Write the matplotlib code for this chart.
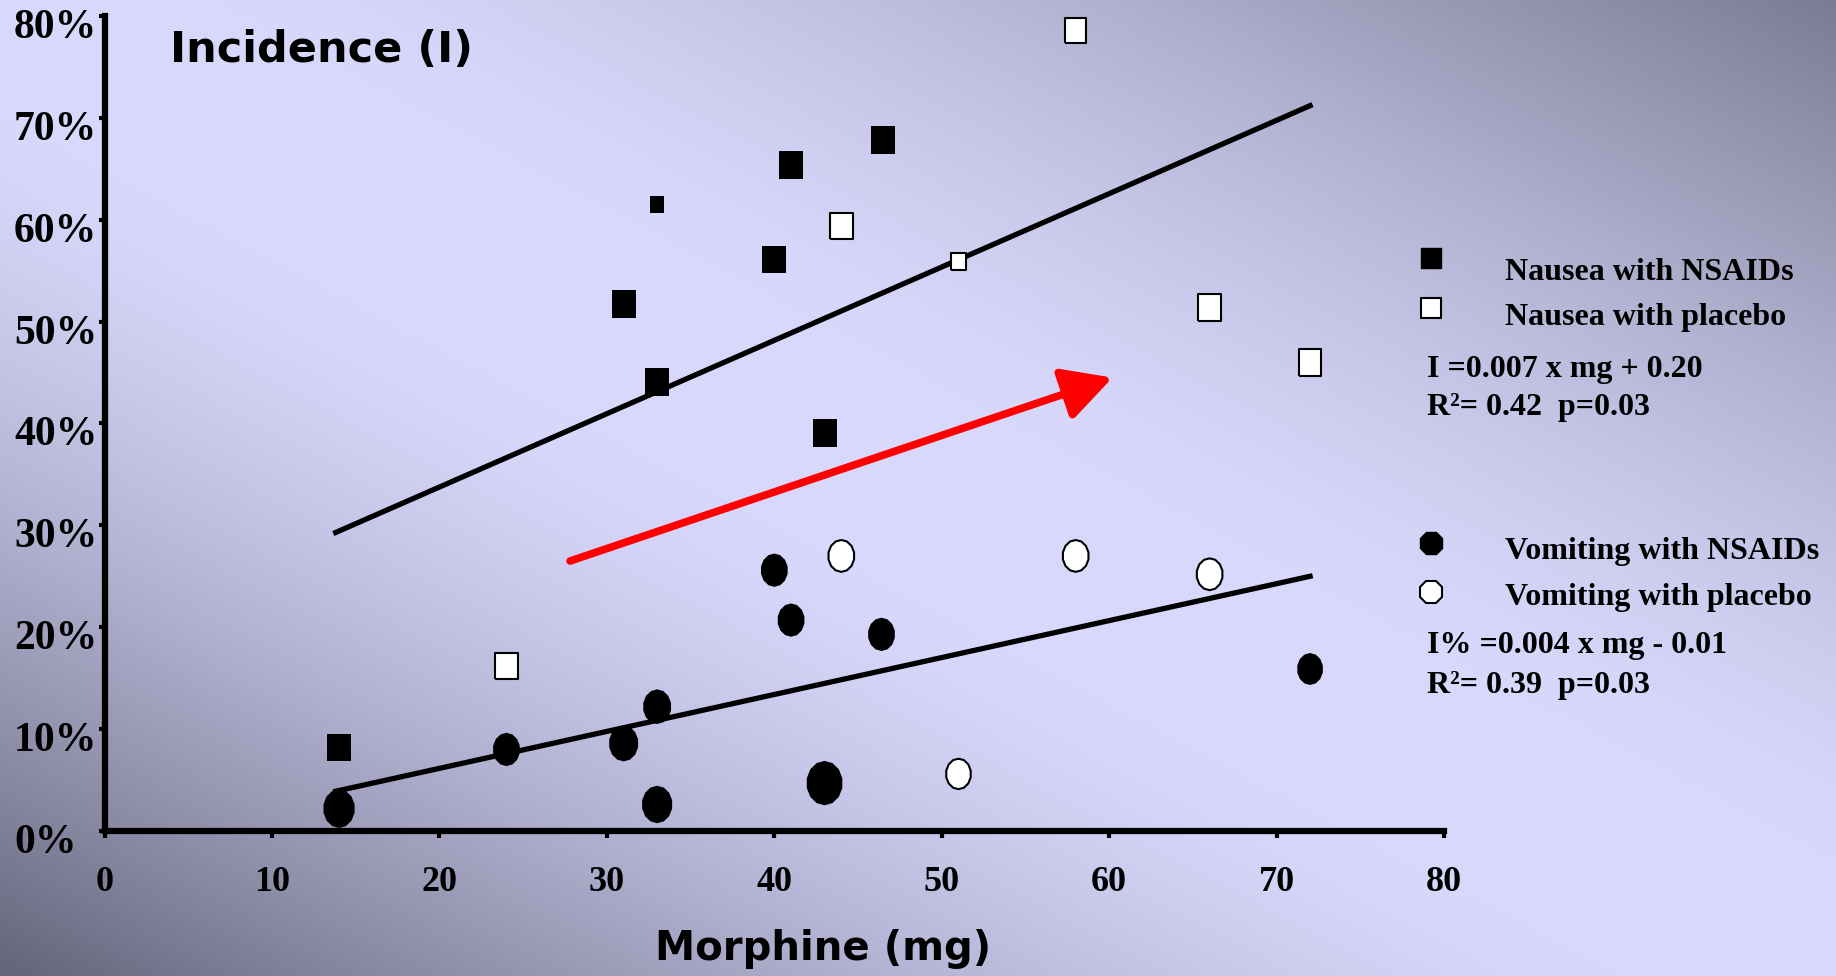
import numpy as np
import matplotlib
matplotlib.use('Agg')
from matplotlib import pyplot as plt
from matplotlib import transforms

# Morphine dose (mg) and incidence (%)
nausea_nsaid_x = [14, 31, 33, 33, 40, 41, 46.5, 43]
nausea_nsaid_y = [8.2, 51.7, 61.5, 44.1, 56.1, 65.4, 67.8, 39.1]
nausea_placebo_x = [24, 44, 51, 58, 66, 72]
nausea_placebo_y = [16.2, 59.4, 55.9, 78.6, 51.4, 46.0]
vomit_nsaid_x = [14, 24, 31, 33, 33, 40, 41, 43, 46.4, 72]
vomit_nsaid_y = [2.2, 8.0, 8.6, 12.2, 2.6, 25.6, 20.7, 4.7, 19.3, 15.9]
vomit_placebo_x = [44, 51, 58, 66]
vomit_placebo_y = [27.0, 5.6, 27.0, 25.2]

# regression lines, end points
fit_x = [13.8, 72]
nausea_fit_y = [29.3, 71.2]
vomit_fit_y = [3.9, 25.0]

# red trend arrow
arrow_x = [27.8, 60.2]
arrow_y = [26.5, 44.5]

x_ticks = [0, 10, 20, 30, 40, 50, 60, 70, 80]
y_ticks = [0, 10, 20, 30, 40, 50, 60, 70, 80]
y_labels = ['0%', '10%', '20%', '30%', '40%', '50%', '60%', '70%', '80%']

# marker sizes (points), the slide has a few bigger / smaller ones
nausea_nsaid_ms = [20, 20, 12, 20, 20, 20, 20, 20]
nausea_placebo_ms = [19, 19, 12, 18, 19, 19]
vomit_nsaid_ms = [28, 24, 26, 25, 27, 24, 24, 32, 24, 23]
vomit_placebo_ms = [23, 22, 23, 23]

serif = ['Liberation Serif', 'DejaVu Serif']
sans = ['DejaVu Sans']

# slightly tall markers (the slide is stretched vertically)
rect_marker = [(-0.43, -0.5), (0.43, -0.5), (0.43, 0.5), (-0.43, 0.5), (-0.43, -0.5)]
ang = np.deg2rad(np.arange(14) * (360 / 14) + 90)
oval_marker = [(0.41 * np.cos(a), 0.5 * np.sin(a)) for a in ang]
oval_marker.append(oval_marker[0])

fig = plt.figure(figsize=(18.36, 9.76), dpi=100)

# background gradient: light along the TL-BR diagonal, darker in the other corners
bg = fig.add_axes([0, 0, 1, 1], zorder=-10)
gx, gy = np.meshgrid(np.linspace(0, 1, 400), np.linspace(1, 0, 220))
d = gx + gy - 1
t = np.clip((np.abs(d) - 0.12) / 0.88, 0, 1) ** 1.4
t = t * np.where(d < 0, 1.0, 0.8)
light = np.array([216, 216, 252]) / 255
dark = np.array([100, 100, 122]) / 255
img = light[None, None, :] * (1 - t[..., None]) + dark[None, None, :] * t[..., None]
bg.imshow(img, aspect='auto', extent=[0, 1, 0, 1], interpolation='bilinear')
bg.axis('off')

ax = fig.add_axes([0.057, 0.1486, 0.7295, 0.835])
ax.set_facecolor('none')
ax.set_xlim(0, 80)
ax.set_ylim(0, 80)

ax.plot(fit_x, nausea_fit_y, color='black', lw=3.8, zorder=2)
ax.plot(fit_x, vomit_fit_y, color='black', lw=3.8, zorder=2)

ax.scatter(nausea_nsaid_x, nausea_nsaid_y, s=np.array(nausea_nsaid_ms) ** 2,
           marker=rect_marker, color='black', lw=0, zorder=3)
ax.scatter(nausea_placebo_x, nausea_placebo_y, s=np.array(nausea_placebo_ms) ** 2,
           marker=rect_marker, facecolor='white', edgecolor='black', lw=1.5, zorder=3)
ax.scatter(vomit_nsaid_x, vomit_nsaid_y, s=np.array(vomit_nsaid_ms) ** 2,
           marker=oval_marker, color='black', lw=0, zorder=3)
ax.scatter(vomit_placebo_x, vomit_placebo_y, s=np.array(vomit_placebo_ms) ** 2,
           marker=oval_marker, facecolor='white', edgecolor='black', lw=1.5, zorder=3)

ax.annotate('', xy=(arrow_x[1], arrow_y[1]), xytext=(arrow_x[0], arrow_y[0]),
            arrowprops=dict(arrowstyle='-|>,head_length=1.5,head_width=0.8',
                            mutation_scale=20, lw=5.5, color='red',
                            shrinkA=0, shrinkB=0), zorder=4)

# axes
for s in ['top', 'right']:
    ax.spines[s].set_visible(False)
for s in ['left', 'bottom']:
    ax.spines[s].set_linewidth(4.5)
    ax.spines[s].set_capstyle('projecting')

ax.set_xticks(x_ticks)
ax.set_xticklabels([str(v) for v in x_ticks], fontsize=26, fontweight='bold', family=serif)
ax.tick_params(axis='x', direction='out', length=5, width=3, pad=20)
ax.set_yticks(y_ticks)
ax.tick_params(axis='y', direction='out', length=4, width=3, labelleft=False)

# y labels are left aligned and sit a bit under their tick
ylab_tr = transforms.offset_copy(ax.get_yaxis_transform(), fig=fig, y=-12, units='dots')
for v, lab in zip(y_ticks, y_labels):
    ax.text(-0.0676, v, lab, transform=ylab_tr, ha='left', va='center',
            fontsize=30, fontweight='bold', family=serif, clip_on=False)

fig.text(170 / 1836, 1 - 50 / 976, 'Incidence (I)', ha='left', va='center',
         fontsize=31, fontweight='bold', family=sans)
fig.text(823 / 1836, 1 - 949 / 976, 'Morphine (mg)', ha='center', va='center',
         fontsize=29, fontweight='bold', family=sans)

# legend and equations drawn by hand
def fx(px):
    return px / 1836

def fy(py):
    return 1 - py / 976

leg = fig.add_axes([0, 0, 1, 1], zorder=5)
leg.set_xlim(0, 1)
leg.set_ylim(0, 1)
leg.axis('off')
leg.plot(fx(1431), fy(258), marker='s', ms=14, color='black', lw=0)
leg.plot(fx(1431), fy(308), marker='s', ms=14, mfc='white', mec='black', mew=1.5, lw=0)
leg.plot(fx(1431), fy(543), marker='8', ms=17, color='black', lw=0)
leg.plot(fx(1431), fy(592), marker='8', ms=17, mfc='white', mec='black', mew=1.5, lw=0)

tkw = dict(ha='left', va='center', fontsize=23, fontweight='bold', family=serif)
fig.text(fx(1505), fy(272), 'Nausea with NSAIDs', **tkw)
fig.text(fx(1505), fy(317), 'Nausea with placebo', **tkw)
fig.text(fx(1427), fy(370), 'I =0.007 x mg + 0.20', **tkw)
fig.text(fx(1427), fy(407), 'R²= 0.42  p=0.03', **tkw)
fig.text(fx(1505), fy(552), 'Vomiting with NSAIDs', **tkw)
fig.text(fx(1505), fy(598), 'Vomiting with placebo', **tkw)
fig.text(fx(1427), fy(645), 'I% =0.004 x mg - 0.01', **tkw)
fig.text(fx(1427), fy(685), 'R²= 0.39  p=0.03', **tkw)

plt.savefig('out.png', dpi=100)
